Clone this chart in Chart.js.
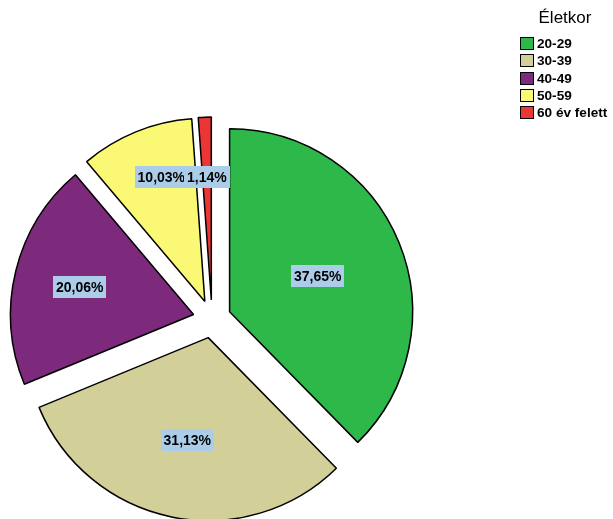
<!DOCTYPE html>
<html lang="hu">
<head>
<meta charset="utf-8">
<script src="https://cdn.jsdelivr.net/npm/chart.js@4.4.0/dist/chart.umd.min.js"></script>
<style>
    html, body { margin: 0; padding: 0; background: #fff; }
    #wrap { position: relative; width: 613px; height: 519px; overflow: hidden; }
    #pie { position: absolute; left: 0; top: 0; }
    #legend { position: absolute; left: 0; top: 0; width: 613px; height: 519px; pointer-events: none;
              font-family: Arial, "Liberation Sans", sans-serif; color: #000; }
    #legend .ttl { position: absolute; left: 515px; top: 8px; width: 100px; text-align: center; font-size: 17px; }
    #legend .item { position: absolute; left: 520px; height: 14px; line-height: 14px; font-size: 13.6px;
                    font-weight: bold; white-space: nowrap; }
    #legend .sw { display: inline-block; width: 12px; height: 11px; border: 1px solid #000;
                  vertical-align: top; margin-right: 3px; }
</style>
</head>
<body>
<div id="wrap">
    <canvas id="pie" width="613" height="519"></canvas>
    <div id="legend"><div class="ttl">Életkor</div></div>
</div>
<script>
"use strict";

/* data */
var categories = ['20-29', '30-39', '40-49', '50-59', '60 év felett'];
var shares = [37.65, 31.13, 20.06, 10.03, 1.14];
var shareLabels = ['37,65%', '31,13%', '20,06%', '10,03%', '1,14%'];
var sliceColors = ['#2FB84A', '#D3CF98', '#7D2A7D', '#FBF876', '#EC3535'];

document.addEventListener("DOMContentLoaded", function () {

    /* legend (html) */
    var legendEl = document.getElementById('legend');
    categories.forEach(function (name, i) {
        var row = document.createElement('div');
        row.className = 'item';
        row.style.top = (37 + i * 17.3) + 'px';
        var sw = document.createElement('span');
        sw.className = 'sw';
        sw.style.background = sliceColors[i];
        row.appendChild(sw);
        row.appendChild(document.createTextNode(name));
        legendEl.appendChild(row);
    });

    /* every slice pulled out from the centre */
    var explodePlugin = {
        id: 'explode',
        beforeDatasetsDraw: function (chart, args, opts) {
            var a = chart.chartArea;
            var cx = (a.left + a.right) / 2, cy = (a.top + a.bottom) / 2;
            chart.getDatasetMeta(0).data.forEach(function (arc) {
                var mid = (arc.startAngle + arc.endAngle) / 2;
                arc.x = cx + Math.cos(mid) * opts.distance;
                arc.y = cy + Math.sin(mid) * opts.distance;
            });
        }
    };

    /* percentage labels on light blue boxes */
    var boxLabelPlugin = {
        id: 'boxLabels',
        afterDatasetsDraw: function (chart, args, opts) {
            var ctx = chart.ctx;
            ctx.save();
            ctx.font = 'bold 14px Arial, "Liberation Sans", sans-serif';
            ctx.textAlign = 'center';
            ctx.textBaseline = 'middle';
            chart.getDatasetMeta(0).data.forEach(function (arc, i) {
                var mid = (arc.startAngle + arc.endAngle) / 2 + opts.turn[i];
                var d = arc.outerRadius * opts.radial[i];
                var x = arc.x + Math.cos(mid) * d;
                var y = arc.y + Math.sin(mid) * d;
                var txt = shareLabels[i];
                var w = ctx.measureText(txt).width + 6;
                var h = 22;
                ctx.fillStyle = opts.background;
                ctx.fillRect(Math.round(x - w / 2), Math.round(y - h / 2), Math.round(w), h);
                ctx.fillStyle = '#000';
                ctx.fillText(txt, x, y + 1);
            });
            ctx.restore();
        }
    };

    var pieCtx = document.getElementById('pie').getContext('2d');
    var pieConfig = {
        type: 'pie',
        data: {
            labels: categories,
            datasets: [{
                data: shares,
                backgroundColor: sliceColors,
                borderColor: '#000',
                borderWidth: 1.5,
                clip: false,
            }]
        },
        options: {
            responsive: false,
            animation: false,
            events: [],
            radius: 183,
            layout: {
                padding: { left: 0, right: 189, top: 119, bottom: 0 }
            },
            plugins: {
                legend: { display: false },
                tooltip: { enabled: false },
                explode: { distance: 19 },
                boxLabels: {
                    background: '#ABCDEA',
                    radial: [0.52, 0.57, 0.64, 0.72, 0.67],
                    turn: [0, 0, 0, 0.05, 0]
                }
            }
        },
        plugins: [explodePlugin, boxLabelPlugin]
    };
    var pieChart = new Chart(pieCtx, pieConfig);

});
</script>
</body>
</html>
